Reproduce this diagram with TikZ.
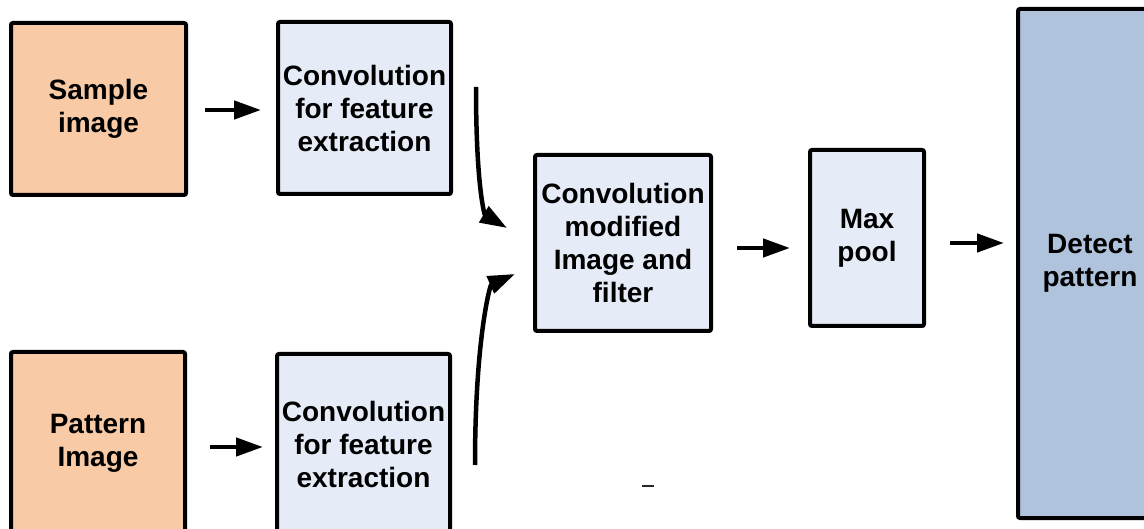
\documentclass[tikz,border=0pt]{standalone}
\usepackage{fontspec}
\setmainfont{Liberation Sans}
\usepackage{tikz}
\usetikzlibrary{arrows.meta}

\definecolor{inorange}{HTML}{F8CBA6}
\definecolor{convblue}{HTML}{E6ECF7}
\definecolor{outblue}{HTML}{B0C3DC}

\tikzset{
  blk/.style={draw=black, line width=4pt, rounded corners=2pt, align=center,
    inner sep=0pt, font=\fontsize{28}{33}\selectfont\bfseries},
  arr/.style={line width=4.5pt, -{Triangle[length=27pt,width=18pt]}}
}

\begin{document}
\begin{tikzpicture}[x=1pt, y=-1pt]
\clip (0,0) rectangle (1144,529);
\fill[white] (0,0) rectangle (1144,529);
\node[blk, fill=inorange, minimum width=175pt, minimum height=172pt] (a) at (98.5,109) {Sample\\image};
\node[blk, fill=convblue, minimum width=173pt, minimum height=172pt] (b) at (364.5,108) {Convolution\\for feature\\extraction};
\node[blk, fill=inorange, minimum width=174pt, minimum height=182pt] (c) at (98,443) {Pattern\\Image};
\node[blk, fill=convblue, minimum width=173pt, minimum height=180pt] (d) at (363.5,444) {Convolution\\for feature\\extraction};
\node[blk, fill=convblue, minimum width=176pt, minimum height=176pt] (m) at (623,243) {Convolution\\modified\\Image and\\filter};
\node[blk, fill=convblue, minimum width=114pt, minimum height=176pt] (x) at (867,238) {Max\\pool};
\node[blk, fill=outblue, minimum width=144pt, minimum height=509pt] (o) at (1090,263.5) {Detect\\pattern};
\draw[arr, shorten <=17pt, shorten >=15pt] ([yshift=-1pt]a.east) -- ([yshift=-1pt]a.east -| b.west);
\draw[arr, shorten <=23pt, shorten >=12pt] ([yshift=-4pt]c.east) -- ([yshift=-4pt]c.east -| d.west);
\draw[arr, shorten <=24pt, shorten >=18pt] ([yshift=-5pt]m.east) -- ([yshift=-5pt]m.east -| x.west);
\draw[arr, shorten <=24pt, shorten >=12pt] ([yshift=-5pt]x.east) -- ([yshift=-5pt]x.east -| o.west);
\coordinate (t1) at (476,87);
\coordinate (t2) at (507,228);
\coordinate (u1) at (475,465);
\coordinate (u2) at (515,274);
\draw[arr] (t1) .. controls (476,190) and (485,215) .. (t2);
\draw[arr] (u1) .. controls (475,340) and (490,285) .. (u2);
\draw[line width=1.5pt, black!85] (642,486) -- (654,486);
\end{tikzpicture}
\end{document}
